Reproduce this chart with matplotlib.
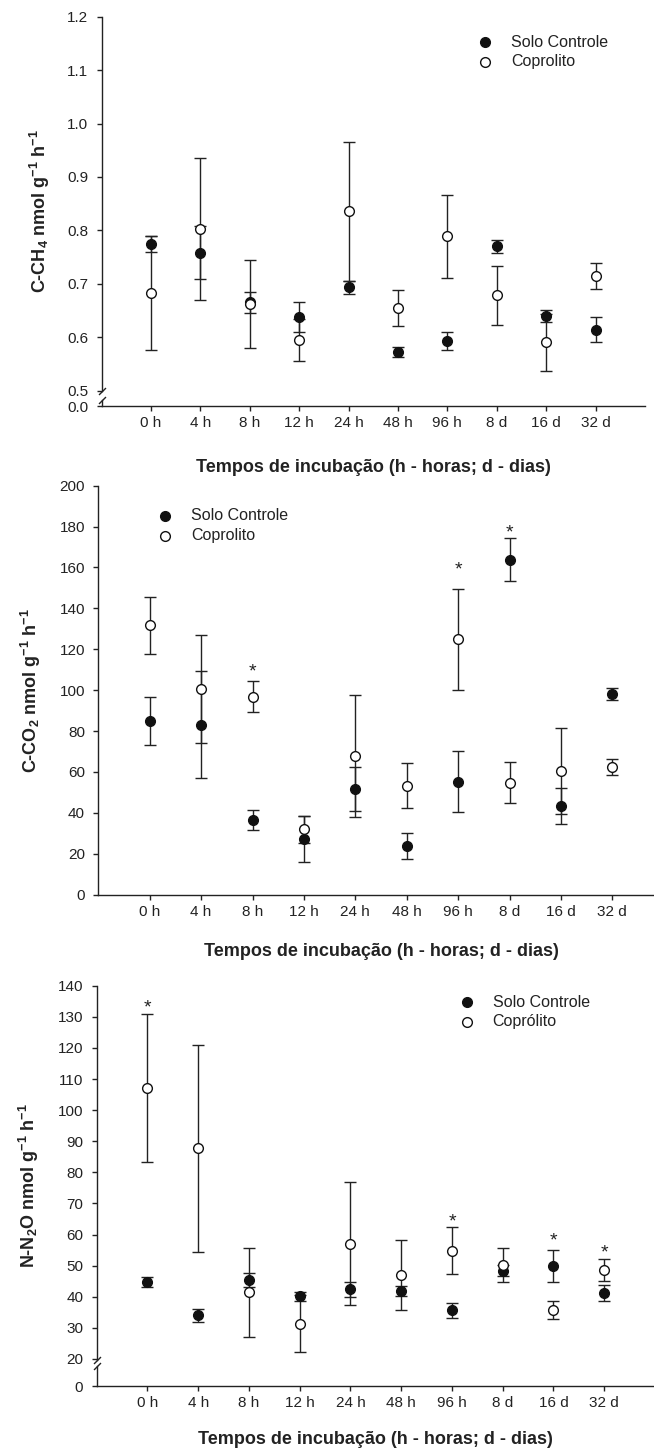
import numpy as np
import matplotlib
matplotlib.use("Agg")
import matplotlib.pyplot as plt

plt.rcParams["font.family"] = ["Liberation Sans", "DejaVu Sans"]
plt.rcParams["mathtext.fontset"] = "custom"
plt.rcParams["mathtext.rm"] = "Liberation Sans"
plt.rcParams["mathtext.bf"] = "Liberation Sans:bold"

INK = "#222222"

# categories
times = ["0 h", "4 h", "8 h", "12 h", "24 h", "48 h", "96 h", "8 d", "16 d", "32 d"]

# C-CH4 (nmol g-1 h-1)
ch4_solo = [0.774, 0.758, 0.665, 0.637, 0.693, 0.572, 0.592, 0.770, 0.640, 0.614]
ch4_solo_err = [0.015, 0.050, 0.019, 0.028, 0.013, 0.010, 0.017, 0.012, 0.011, 0.023]
ch4_cop = [0.682, 0.802, 0.662, 0.595, 0.836, 0.655, 0.789, 0.678, 0.590, 0.715]
ch4_cop_err = [0.107, 0.133, 0.083, 0.039, 0.130, 0.034, 0.078, 0.056, 0.053, 0.024]

# C-CO2
co2_solo = [84.9, 83.1, 36.5, 27.2, 51.7, 23.8, 55.3, 163.8, 43.5, 98.0]
co2_solo_err = [11.8, 26.1, 5.0, 11.2, 10.9, 6.4, 15.0, 10.4, 8.7, 2.9]
co2_cop = [131.7, 100.6, 96.8, 31.9, 67.8, 53.3, 124.9, 54.8, 60.6, 62.6]
co2_cop_err = [14.0, 26.2, 7.7, 6.7, 29.8, 11.0, 24.7, 10.0, 20.9, 3.9]
co2_star_idx = [2, 6, 7]
co2_star_y = [112, 162, 180]

# N-N2O
n2o_solo = [44.7, 34.0, 45.4, 40.1, 42.4, 42.0, 35.6, 48.4, 49.9, 41.3]
n2o_solo_err = [1.6, 2.1, 2.3, 1.5, 2.4, 1.6, 2.5, 1.7, 5.1, 2.5]
n2o_cop = [107.2, 87.7, 41.4, 31.4, 57.1, 47.0, 54.8, 50.2, 35.7, 48.5]
n2o_cop_err = [23.8, 33.2, 14.3, 9.2, 19.7, 11.4, 7.6, 5.4, 3.0, 3.5]
n2o_star_idx = [0, 6, 8, 9]
n2o_star_y = [134.9, 66.3, 60.1, 56.1]

W, H = 654, 1455
fig = plt.figure(figsize=(W / 100, H / 100), dpi=100)


def px_axes(left, right, top, bottom):
    return fig.add_axes([left / W, 1 - bottom / H, (right - left) / W, (bottom - top) / H])


def broken_scale(lo, k):
    # compress the range below `lo` by factor k (axis break)
    def fwd(v):
        v = np.asarray(v, dtype=float)
        return np.where(v >= lo, v, lo - (lo - v) * k)

    def inv(u):
        u = np.asarray(u, dtype=float)
        return np.where(u >= lo, u, lo - (lo - u) / k)

    return fwd, inv


def draw_panel(ax, solo, solo_err, cop, cop_err):
    x = np.arange(len(times))
    ax.errorbar(x, solo, yerr=solo_err, fmt="none", ecolor=INK, elinewidth=1.0,
                capsize=4.3, capthick=1.0, zorder=2)
    ax.errorbar(x, cop, yerr=cop_err, fmt="none", ecolor=INK, elinewidth=1.0,
                capsize=4.3, capthick=1.0, zorder=2)
    ax.plot(x, solo, "o", ms=7, mfc="#111111", mec="#111111", mew=1.0, zorder=3)
    ax.plot(x, cop, "o", ms=7, mfc="white", mec="#111111", mew=1.0, zorder=4)
    ax.set_xlim(-1, 10)
    ax.set_xticks(x)
    ax.set_xticklabels(times)
    for s in ["top", "right"]:
        ax.spines[s].set_visible(False)
    for s in ["left", "bottom"]:
        ax.spines[s].set_color(INK)
        ax.spines[s].set_linewidth(1.0)
    ax.tick_params(axis="both", direction="out", length=3.6, width=1.0, color=INK,
                   labelsize=11, labelcolor=INK)
    ax.tick_params(axis="x", pad=3.5)
    ax.tick_params(axis="y", pad=6)


def draw_stars(ax, idx, ys):
    for i, y in zip(idx, ys):
        ax.annotate("*", (i, y), xytext=(0, -8), textcoords="offset points",
                    ha="center", va="baseline", fontsize=14, color=INK)


def draw_break(ax, y_top_end, y_bot_start, ymax):
    ax.spines["left"].set_visible(False)
    tr = ax.get_yaxis_transform()
    ax.plot([0, 0], [y_top_end, ymax], color=INK, lw=1.0, transform=tr, clip_on=False)
    ax.plot([0, 0], [0, y_bot_start], color=INK, lw=1.0, transform=tr, clip_on=False)
    ax.plot([0, 0], [y_top_end, y_bot_start], ls="none", marker=[(-1, -1), (1, 1)],
            ms=5, mew=1.0, mec=INK, transform=tr, clip_on=False)


def draw_legend(x_dot, y1, y2, names):
    fig.add_artist(plt.Line2D([x_dot / W], [1 - y1 / H], marker="o", ms=7, mfc="#111111",
                              mec="#111111", ls="none"))
    fig.add_artist(plt.Line2D([x_dot / W], [1 - y2 / H], marker="o", ms=7, mfc="white",
                              mec="#111111", ls="none"))
    for y, name in zip([y1, y2], names):
        fig.text((x_dot + 26) / W, 1 - y / H, name, ha="left", va="center",
                 fontsize=11.5, color=INK)


def labels(ax, ylabel, ylab_x_px, ax_left_px, ax_w_px, xlab_off_px, ax_h_px):
    ax.set_xlabel("Tempos de incubação (h - horas; d - dias)", fontsize=13,
                  fontweight="bold", color=INK, va="center")
    ax.xaxis.set_label_coords(0.5, -xlab_off_px / ax_h_px)
    ax.set_ylabel(ylabel, fontsize=13, fontweight="bold", color=INK, va="center")
    ax.yaxis.set_label_coords((ylab_x_px - ax_left_px) / ax_w_px, 0.5)


# ---- panel 1: C-CH4
ax1 = px_axes(101.5, 645, 16.7, 406)
f, i = broken_scale(0.5, 0.058)
ax1.set_yscale("function", functions=(f, i))
draw_panel(ax1, ch4_solo, ch4_solo_err, ch4_cop, ch4_cop_err)
ax1.set_ylim(0, 1.2)
ax1.set_yticks([0.0, 0.5, 0.6, 0.7, 0.8, 0.9, 1.0, 1.1, 1.2])
ax1.set_yticklabels(["0.0", "0.5", "0.6", "0.7", "0.8", "0.9", "1.0", "1.1", "1.2"])
draw_break(ax1, 0.474, 0.20, 1.2)
labels(ax1, r"C-CH$_{\mathbf{4}}$ nmol g$^{\mathbf{-1}}$ h$^{\mathbf{-1}}$", 40, 101.5, 543.5, 62, 389.3)
draw_legend(485, 42.3, 61.7, ["Solo Controle", "Coprolito"])

# ---- panel 2: C-CO2
ax2 = px_axes(98.3, 663.7, 485.7, 894.7)
draw_panel(ax2, co2_solo, co2_solo_err, co2_cop, co2_cop_err)
ax2.set_ylim(0, 200)
ax2.set_yticks(np.arange(0, 201, 20))
draw_stars(ax2, co2_star_idx, co2_star_y)
labels(ax2, r"C-CO$_{\mathbf{2}}$ nmol g$^{\mathbf{-1}}$ h$^{\mathbf{-1}}$", 31, 98.3, 565.4, 57, 409)
draw_legend(165.4, 515.7, 535.7, ["Solo Controle", "Coprolito"])

# ---- panel 3: N-N2O
ax3 = px_axes(96.7, 655, 985.7, 1386.3)
f, i = broken_scale(20, 0.439)
ax3.set_yscale("function", functions=(f, i))
draw_panel(ax3, n2o_solo, n2o_solo_err, n2o_cop, n2o_cop_err)
ax3.set_ylim(0, 140)
ax3.set_yticks([0] + list(range(20, 141, 10)))
ax3.set_yticklabels([str(v) for v in [0] + list(range(20, 141, 10))])
draw_break(ax3, 19.3, 14.9, 140)
draw_stars(ax3, n2o_star_idx, n2o_star_y)
labels(ax3, r"N-N$_{\mathbf{2}}$O nmol g$^{\mathbf{-1}}$ h$^{\mathbf{-1}}$", 29, 96.7, 558.3, 53.7, 400.6)
draw_legend(466.7, 1002.3, 1021.7, ["Solo Controle", "Coprólito"])

fig.savefig("out.png", dpi=100)
